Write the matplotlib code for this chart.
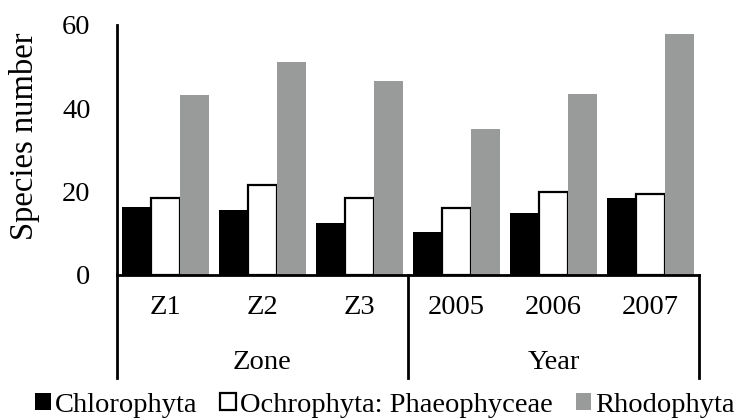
import numpy as np
import matplotlib.pyplot as plt
from matplotlib.lines import Line2D
from matplotlib.patches import Patch

plt.rcParams['font.family'] = ['Liberation Serif', 'DejaVu Serif']

# data
categories = ['Z1', 'Z2', 'Z3', '2005', '2006', '2007']
groups = ['Zone', 'Year']
chlorophyta = [16.3, 15.6, 12.5, 10.3, 15.0, 18.6]
ochrophyta = [18.5, 21.5, 18.5, 16.2, 20.0, 19.4]
rhodophyta = [43.3, 51.0, 46.5, 35.0, 43.4, 57.8]
series_names = ['Chlorophyta', 'Ochrophyta: Phaeophyceae', 'Rhodophyta']

GRAY = '#999b9b'
FS = 20.5

fig = plt.figure(figsize=(7.39, 4.19), dpi=100)
ax = fig.add_axes([117/739, 1 - 275/419, 582/739, 250/419])

x = np.arange(len(categories))
w = 0.3
ax.bar(x - w, chlorophyta, w, color='black', edgecolor='black', linewidth=0)
ax.bar(x, ochrophyta, w, color='white', edgecolor='black', linewidth=1.6)
ax.bar(x + w, rhodophyta, w, color=GRAY, edgecolor='none')

ax.set_xlim(-0.5, 5.5)
ax.set_ylim(0, 60)
ax.set_yticks([0, 20, 40, 60])
ax.tick_params(axis='y', length=0, pad=19, labelsize=FS)
ax.set_xticks([])
ax.set_ylabel('Species number', fontsize=23.5)
ax.yaxis.set_label_coords(-0.133, 0.556)

for s in ['top', 'right', 'left']:
    ax.spines[s].set_visible(False)
ax.spines['bottom'].set_linewidth(2)

# axis lines incl. the multi-level category dividers
lw = 2
px = 1 / 250.0  # axes fraction per pixel in y
ax.add_line(Line2D([0, 0], [1, -103 * px], transform=ax.transAxes, color='black', lw=lw, clip_on=False))
trans = ax.get_xaxis_transform()
ax.add_line(Line2D([2.5, 2.5], [0, -103 * px], transform=trans, color='black', lw=lw, clip_on=False))
ax.add_line(Line2D([5.5, 5.5], [0, -103 * px], transform=trans, color='black', lw=lw, clip_on=False))

for xi, lab in zip(x, categories):
    ax.text(xi, -33 * px, lab, transform=trans, ha='center', va='center', fontsize=FS)
for gi, g in enumerate(groups):
    ax.text(1 + 3 * gi, -87 * px, g, transform=trans, ha='center', va='center', fontsize=FS)

handles = [Patch(facecolor='black', edgecolor='black', linewidth=0),
           Patch(facecolor='white', edgecolor='black', linewidth=1.6),
           Patch(facecolor=GRAY, edgecolor='none')]
fig.legend(handles, series_names, loc='center', bbox_to_anchor=(0.521, 1 - 405/419),
           ncol=3, frameon=False, prop={'family': 'Liberation Serif', 'size': 20.5},
           handlelength=0.55, handleheight=0.55,
           handletextpad=0.15, columnspacing=0.8, borderpad=0, borderaxespad=0)

plt.savefig('out.png', dpi=100)
